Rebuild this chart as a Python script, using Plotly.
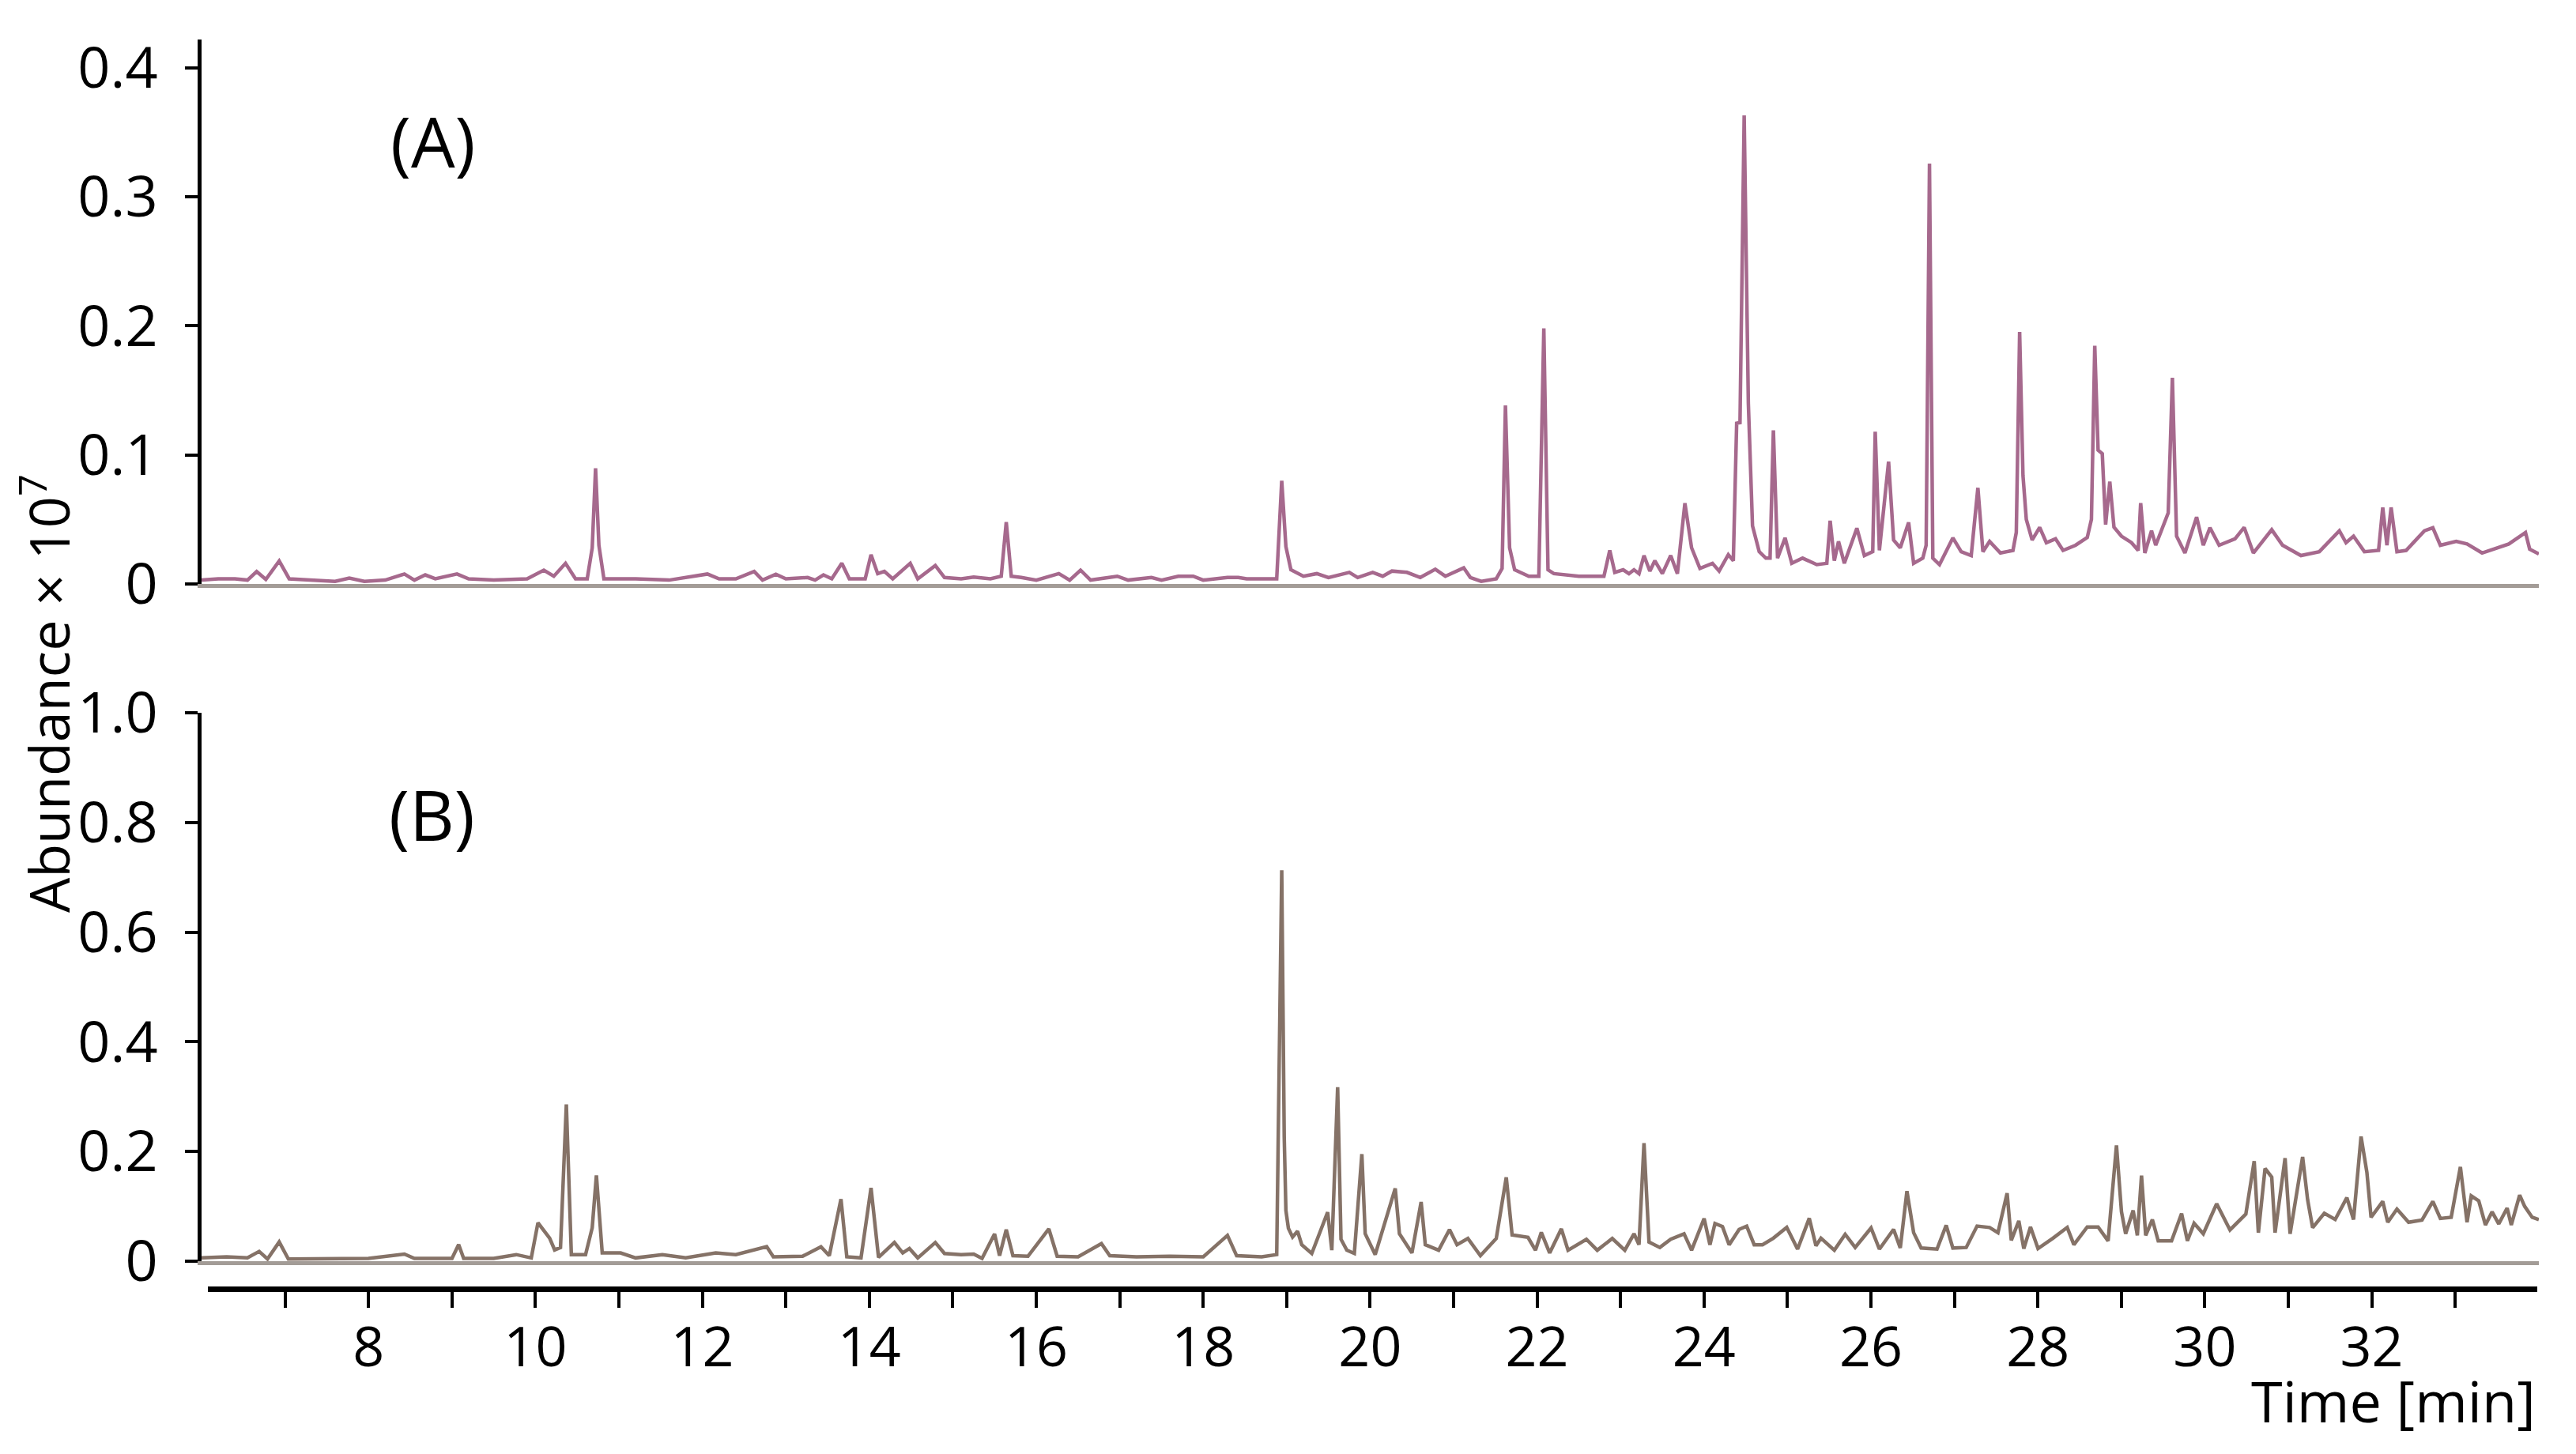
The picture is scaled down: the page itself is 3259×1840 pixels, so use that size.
import plotly.graph_objects as go

W, H = 3259, 1840

# ---------------- data ----------------
time_a = [6.00, 6.20, 6.40, 6.55, 6.66, 6.77, 6.93, 7.05, 7.30, 7.60, 7.77, 7.95, 8.20, 8.43, 8.55, 8.68, 8.80, 9.06,
          9.20, 9.50, 9.90, 10.10, 10.22, 10.36, 10.48, 10.62, 10.68, 10.72, 10.76, 10.82, 11.20, 11.60, 12.06, 12.20,
          12.40, 12.62, 12.72, 12.88, 13.00, 13.26, 13.35, 13.45, 13.55, 13.67, 13.76, 13.95, 14.02, 14.10, 14.18,
          14.28, 14.49, 14.58, 14.79, 14.90, 15.10, 15.25, 15.45, 15.58, 15.64, 15.70, 15.82, 16.00, 16.27, 16.40,
          16.53, 16.65, 16.97, 17.10, 17.38, 17.50, 17.70, 17.88, 18.00, 18.29, 18.42, 18.52, 18.88, 18.94, 18.99,
          19.05, 19.20, 19.36, 19.50, 19.75, 19.85, 20.03, 20.15, 20.26, 20.44, 20.60, 20.78, 20.90, 21.12, 21.20,
          21.33, 21.51, 21.58, 21.62, 21.67, 21.73, 21.90, 22.02, 22.08, 22.13, 22.20, 22.50, 22.80, 22.87, 22.93,
          23.03, 23.10, 23.16, 23.22, 23.28, 23.35, 23.41, 23.50, 23.60, 23.68, 23.77, 23.85, 23.95, 24.10, 24.18,
          24.29, 24.35, 24.39, 24.43, 24.48, 24.53, 24.58, 24.66, 24.74, 24.79, 24.83, 24.88, 24.97, 25.05, 25.18,
          25.35, 25.47, 25.51, 25.56, 25.61, 25.68, 25.83, 25.92, 26.02, 26.05, 26.10, 26.21, 26.27, 26.35, 26.45,
          26.51, 26.62, 26.66, 26.70, 26.74, 26.82, 26.98, 27.08, 27.20, 27.28, 27.34, 27.42, 27.55, 27.70, 27.74,
          27.78, 27.82, 27.86, 27.93, 28.02, 28.10, 28.21, 28.30, 28.45, 28.59, 28.64, 28.68, 28.72, 28.77, 28.81,
          28.86, 28.91, 29.00, 29.12, 29.20, 29.23, 29.28, 29.36, 29.41, 29.50, 29.56, 29.61, 29.66, 29.76, 29.90,
          29.98, 30.06, 30.17, 30.36, 30.47, 30.58, 30.80, 30.93, 31.15, 31.37, 31.61, 31.69, 31.78, 31.91, 32.08,
          32.13, 32.18, 32.23, 32.30, 32.41, 32.63, 32.73, 32.82, 33.01, 33.14, 33.32, 33.64, 33.84, 33.89, 34.00]
abund_a = [0.003, 0.004, 0.004, 0.003, 0.0096, 0.0035, 0.0178, 0.004, 0.003, 0.002, 0.0045, 0.002, 0.003, 0.0077,
           0.003, 0.007, 0.004, 0.0077, 0.004, 0.003, 0.004, 0.0107, 0.006, 0.016, 0.004, 0.004, 0.028, 0.0896, 0.03,
           0.004, 0.004, 0.003, 0.0077, 0.004, 0.004, 0.0097, 0.003, 0.0075, 0.004, 0.005, 0.003, 0.007, 0.004,
           0.0161, 0.004, 0.004, 0.0226, 0.008, 0.0097, 0.004, 0.016, 0.004, 0.0143, 0.005, 0.004, 0.0054, 0.004,
           0.006, 0.048, 0.006, 0.005, 0.003, 0.008, 0.003, 0.0107, 0.003, 0.006, 0.003, 0.005, 0.003, 0.006, 0.006,
           0.003, 0.005, 0.005, 0.004, 0.004, 0.080, 0.029, 0.011, 0.006, 0.008, 0.005, 0.009, 0.005, 0.009, 0.006,
           0.010, 0.009, 0.005, 0.0114, 0.006, 0.0125, 0.005, 0.002, 0.004, 0.012, 0.1383, 0.028, 0.011, 0.006, 0.006,
           0.198, 0.011, 0.008, 0.006, 0.006, 0.026, 0.009, 0.011, 0.008, 0.011, 0.008, 0.022, 0.010, 0.018, 0.008,
           0.022, 0.008, 0.0626, 0.028, 0.012, 0.016, 0.010, 0.0227, 0.018, 0.1245, 0.125, 0.363, 0.14, 0.045, 0.025,
           0.020, 0.020, 0.119, 0.020, 0.0357, 0.016, 0.020, 0.015, 0.016, 0.049, 0.018, 0.033, 0.016, 0.0432, 0.022,
           0.025, 0.118, 0.026, 0.0948, 0.034, 0.028, 0.0477, 0.016, 0.020, 0.030, 0.3256, 0.020, 0.015, 0.0357,
           0.025, 0.022, 0.0745, 0.025, 0.033, 0.024, 0.026, 0.040, 0.1952, 0.084, 0.050, 0.034, 0.0438, 0.032,
           0.035, 0.026, 0.030, 0.036, 0.050, 0.1846, 0.1037, 0.101, 0.046, 0.0793, 0.044, 0.037, 0.032, 0.026,
           0.0626, 0.024, 0.0412, 0.030, 0.045, 0.055, 0.1597, 0.037, 0.024, 0.0518, 0.030, 0.0436, 0.030, 0.035,
           0.0438, 0.024, 0.042, 0.030, 0.022, 0.025, 0.0412, 0.032, 0.037, 0.025, 0.026, 0.0593, 0.030, 0.0593,
           0.025, 0.026, 0.0412, 0.0435, 0.030, 0.033, 0.031, 0.024, 0.031, 0.0399, 0.027, 0.0233]

time_b = [6.00, 6.30, 6.55, 6.69, 6.79, 6.93, 7.04, 7.50, 8.00, 8.43, 8.55, 9.00, 9.08, 9.14, 9.50, 9.77, 9.95, 10.03,
          10.17, 10.23, 10.30, 10.37, 10.43, 10.60, 10.68, 10.73, 10.80, 11.02, 11.20, 11.52, 11.80, 12.16, 12.40,
          12.77, 12.85, 13.20, 13.42, 13.52, 13.66, 13.73, 13.90, 14.02, 14.11, 14.30, 14.40, 14.48, 14.58, 14.79,
          14.90, 15.10, 15.25, 15.35, 15.50, 15.56, 15.64, 15.72, 15.90, 16.15, 16.25, 16.50, 16.78, 16.88, 17.20,
          17.60, 18.00, 18.29, 18.40, 18.70, 18.88, 18.94, 18.97, 18.99, 19.02, 19.07, 19.13, 19.18, 19.30, 19.49,
          19.54, 19.61, 19.65, 19.72, 19.81, 19.90, 19.94, 20.06, 20.30, 20.35, 20.50, 20.61, 20.66, 20.82, 20.95,
          21.04, 21.17, 21.32, 21.51, 21.63, 21.70, 21.89, 21.98, 22.05, 22.15, 22.29, 22.37, 22.59, 22.72, 22.90,
          23.05, 23.16, 23.22, 23.28, 23.34, 23.47, 23.60, 23.76, 23.85, 24.00, 24.07, 24.13, 24.22, 24.30, 24.42,
          24.51, 24.60, 24.70, 24.83, 24.99, 25.12, 25.26, 25.34, 25.40, 25.56, 25.69, 25.81, 26.00, 26.10, 26.27,
          26.35, 26.43, 26.51, 26.60, 26.79, 26.90, 26.98, 27.14, 27.27, 27.42, 27.52, 27.63, 27.68, 27.77, 27.83,
          27.91, 28.00, 28.18, 28.35, 28.43, 28.59, 28.72, 28.84, 28.94, 29.00, 29.05, 29.14, 29.19, 29.24, 29.29,
          29.37, 29.44, 29.60, 29.72, 29.79, 29.87, 29.98, 30.14, 30.23, 30.30, 30.49, 30.59, 30.64, 30.72, 30.80,
          30.84, 30.96, 31.02, 31.17, 31.23, 31.29, 31.43, 31.56, 31.70, 31.78, 31.87, 31.94, 31.99, 32.13, 32.19,
          32.30, 32.44, 32.60, 32.73, 32.82, 32.95, 33.06, 33.14, 33.19, 33.28, 33.36, 33.44, 33.52, 33.62, 33.67,
          33.77, 33.83, 33.92, 34.00]
abund_b = [0.006, 0.008, 0.006, 0.0178, 0.004, 0.0351, 0.004, 0.005, 0.005, 0.013, 0.005, 0.005, 0.0303, 0.005,
           0.005, 0.012, 0.006, 0.070, 0.042, 0.0206, 0.025, 0.286, 0.012, 0.012, 0.061, 0.1566, 0.015, 0.015, 0.006,
           0.012, 0.006, 0.015, 0.012, 0.0265, 0.008, 0.009, 0.0264, 0.010, 0.1133, 0.008, 0.006, 0.1335, 0.007,
           0.0342, 0.015, 0.0231, 0.006, 0.034, 0.014, 0.012, 0.013, 0.005, 0.0497, 0.010, 0.0577, 0.010, 0.009,
           0.059, 0.009, 0.008, 0.032, 0.010, 0.008, 0.009, 0.008, 0.047, 0.010, 0.008, 0.012, 0.713, 0.227, 0.0925,
           0.060, 0.044, 0.0547, 0.030, 0.014, 0.0893, 0.020, 0.3173, 0.040, 0.020, 0.014, 0.1952, 0.050, 0.012,
           0.1328, 0.050, 0.015, 0.108, 0.030, 0.020, 0.0576, 0.030, 0.0414, 0.010, 0.0414, 0.1529, 0.048, 0.0435,
           0.020, 0.0525, 0.015, 0.0590, 0.020, 0.040, 0.020, 0.0414, 0.020, 0.050, 0.030, 0.2153, 0.035, 0.025,
           0.040, 0.050, 0.020, 0.0778, 0.030, 0.0688, 0.063, 0.030, 0.058, 0.0638, 0.030, 0.030, 0.042, 0.0615,
           0.022, 0.0783, 0.028, 0.042, 0.020, 0.049, 0.025, 0.0605, 0.022, 0.058, 0.024, 0.1278, 0.052, 0.024,
           0.022, 0.0654, 0.024, 0.025, 0.064, 0.0615, 0.052, 0.1239, 0.038, 0.0735, 0.023, 0.0625, 0.023, 0.042,
           0.0615, 0.030, 0.0625, 0.0625, 0.037, 0.2113, 0.090, 0.050, 0.0925, 0.047, 0.156, 0.047, 0.076, 0.037,
           0.037, 0.0867, 0.037, 0.069, 0.050, 0.1047, 0.076, 0.057, 0.086, 0.1825, 0.052, 0.169, 0.1532, 0.052,
           0.1878, 0.050, 0.1902, 0.112, 0.061, 0.0874, 0.076, 0.1158, 0.076, 0.2272, 0.162, 0.080, 0.109, 0.071,
           0.095, 0.071, 0.075, 0.109, 0.078, 0.080, 0.1719, 0.071, 0.119, 0.110, 0.066, 0.090, 0.068, 0.097, 0.066,
           0.1206, 0.100, 0.080, 0.0759]

x_major = list(range(8, 33, 2))
x_major_labels = [str(v) for v in x_major]
x_minor = list(range(7, 34, 2))
ya_ticks = [0, 0.1, 0.2, 0.3, 0.4]
ya_labels = ["0", "0.1", "0.2", "0.3", "0.4"]
yb_ticks = [0, 0.2, 0.4, 0.6, 0.8, 1.0]
yb_labels = ["0", "0.2", "0.4", "0.6", "0.8", "1.0"]

# ---------------- styling ----------------
COL_A = "#A6698D"
COL_B = "#857267"
COL_BASE = "#A39C97"
FONT = "Open Sans"

def px_x(p):
    return p / W

def px_y(p):
    return 1 - p / H

fig = go.Figure()
fig.add_trace(go.Scatter(x=time_a, y=abund_a, mode="lines", xaxis="x", yaxis="y",
                         line=dict(color=COL_A, width=4.5), showlegend=False, hoverinfo="skip"))
fig.add_trace(go.Scatter(x=time_b, y=abund_b, mode="lines", xaxis="x2", yaxis="y2",
                         line=dict(color=COL_B, width=4.5), showlegend=False, hoverinfo="skip"))
fig.add_trace(go.Scatter(x=[None], y=[None], mode="lines", xaxis="x3", yaxis="y2",
                         showlegend=False, hoverinfo="skip"))

x_dom = [px_x(255), px_x(3212)]
base_x = dict(domain=x_dom, range=[6, 34], showline=True, linecolor=COL_BASE, linewidth=5,
              ticks="", showticklabels=False, showgrid=False, zeroline=False, automargin=False)
y_tick_font = dict(family=FONT, size=72, color="black")
x_tick_font = dict(family=FONT, size=70, color="black")
base_y = dict(showline=True, linecolor="black", linewidth=5, ticks="outside", ticklen=16, tickwidth=4,
              tickcolor="black", tickfont=y_tick_font, showgrid=False, zeroline=False, ticklabelstandoff=20,
              automargin=False)

t_left = 6 + (263 - 255) / 105.6
t_right = 6 + (3210 - 255) / 105.6

fig.update_layout(
    width=W, height=H,
    margin=dict(l=0, r=0, t=0, b=0, pad=0, autoexpand=False),
    paper_bgcolor="white", plot_bgcolor="rgba(0,0,0,0)",
    showlegend=False,
    font=dict(family=FONT, color="black"),
    xaxis=dict(base_x, anchor="y"),
    yaxis=dict(base_y, domain=[px_y(739), px_y(50)], range=[0, 0.4218], anchor="x",
               tickvals=ya_ticks, ticktext=ya_labels),
    xaxis2=dict(base_x, anchor="y2"),
    yaxis2=dict(base_y, domain=[px_y(1596), px_y(902)], range=[0, 1.0], anchor="x2",
                tickvals=yb_ticks, ticktext=yb_labels),
    xaxis3=dict(domain=[px_x(263), px_x(3210)], range=[t_left, t_right], anchor="free",
                position=px_y(1631), side="bottom", showline=True, linecolor="black", linewidth=7,
                ticks="outside", ticklen=20, tickwidth=3.5, tickcolor="black",
                tickvals=x_major, ticktext=x_major_labels, tickfont=x_tick_font,
                minor=dict(tickvals=x_minor, ticks="outside", ticklen=20, tickwidth=3.5,
                           tickcolor="black", showgrid=False),
                showgrid=False, zeroline=False, ticklabelstandoff=-10, automargin=False),
    annotations=[
        dict(text="(A)", x=px_x(548), y=px_y(178), xref="paper", yref="paper", showarrow=False,
             xanchor="center", yanchor="middle", font=dict(family=FONT, size=88, color="black")),
        dict(text="(B)", x=px_x(546), y=px_y(1030), xref="paper", yref="paper", showarrow=False,
             xanchor="center", yanchor="middle", font=dict(family=FONT, size=88, color="black")),
        dict(text="Abundance × 10<sup>7</sup>", x=px_x(58), y=px_y(878), xref="paper", yref="paper",
             showarrow=False, textangle=-90, xanchor="center", yanchor="middle",
             font=dict(family=FONT, size=70, color="black")),
        dict(text="Time [min]", x=px_x(3210), y=px_y(1772), xref="paper", yref="paper", showarrow=False,
             xanchor="right", yanchor="middle", font=dict(family=FONT, size=72, color="black")),
    ],
)

fig.write_html("out.html", config={"displayModeBar": False},
               post_script="document.body.style.margin='0';document.body.style.overflow='hidden';")
